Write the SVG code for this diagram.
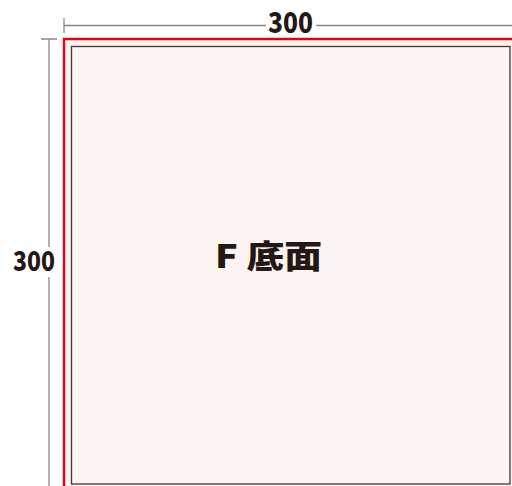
<svg xmlns="http://www.w3.org/2000/svg" width="512" height="486" viewBox="0 0 512 486">
<style>
.dim{stroke:#8a8786;stroke-width:1.3;fill:none}
.num{font-family:"Noto Sans CJK JP","Noto Sans",sans-serif;font-weight:900;fill:#231815}
</style>
<rect width="512" height="486" fill="#ffffff"/>
<g id="panel">
<rect x="64" y="39" width="448" height="447" fill="#fdf4f1"/>
<path d="M64,486 V39 H512" fill="none" stroke="#e60012" stroke-width="2.4"/>
<rect x="71.5" y="46.5" width="438.5" height="437.5" fill="#fdf4f1" stroke="#3e3a39" stroke-width="1.3"/>
<text class="num" x="215" y="268" font-size="32" textLength="107" lengthAdjust="spacingAndGlyphs">F 底面</text>
</g>
<g id="dimensions">
<path class="dim" d="M64,18 V33 M64,25.5 H266 M316,25.5 H512"/>
<path class="dim" d="M41,39 H57 M49,39 V247 M49,277 V486"/>
</g>
<g id="labels">
<text class="num" x="290.5" y="33" font-size="28" text-anchor="middle" textLength="45" lengthAdjust="spacingAndGlyphs">300</text>
<text class="num" x="34" y="271" font-size="27" text-anchor="middle" textLength="42" lengthAdjust="spacingAndGlyphs">300</text>
</g>
</svg>
